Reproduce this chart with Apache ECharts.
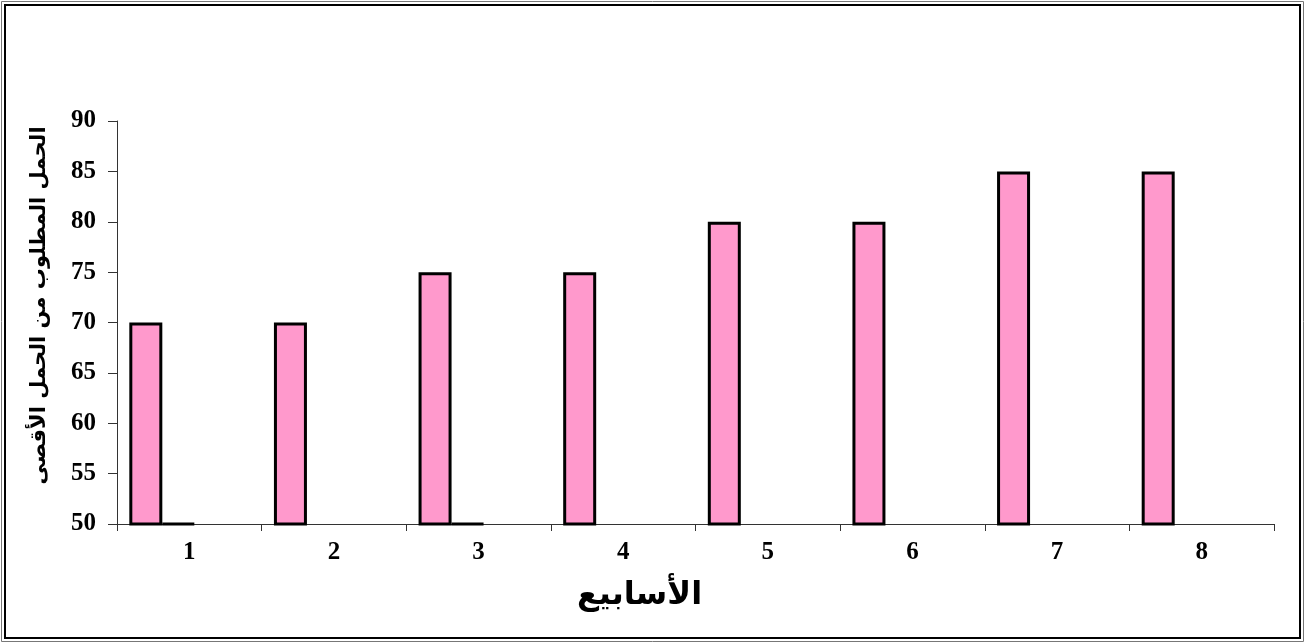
<!DOCTYPE html>
<html lang="ar">
<head>
    <meta charset="UTF-8"/>
    <script src="https://cdn.jsdelivr.net/npm/echarts@6/dist/echarts.min.js"></script>
    <title>weeks_load</title>
    <style>
        html, body { margin: 0; padding: 0; background: #fff; }
    </style>
</head>
<body>
<div id="main" style="width: 1306px;height:644px;"></div>
<script type="text/javascript">
    // data
    var weeks = ['1', '2', '3', '4', '5', '6', '7', '8'];
    var loadValues = [70, 70, 75, 75, 80, 80, 85, 85];
    var secondValues = [50.15, null, 50.15, null, null, null, null, null];
    var emptyValues = [null, null, null, null, null, null, null, null];
    var yTicks = [50, 55, 60, 65, 70, 75, 80, 85, 90];

    var myChart = echarts.init(document.getElementById('main'));

    var serif = '"Liberation Serif", "DejaVu Serif", serif';
    var arabic = '"DejaVu Sans", "Noto Sans", sans-serif';

    var barStyle = {
        color: '#FF99CC',
        borderColor: '#000',
        borderWidth: 3
    };

    var option = {
        animation: false,
        backgroundColor: '#fff',
        graphic: [
            {
                type: 'rect',
                shape: {x: 1.5, y: 1.5, width: 1302, height: 640},
                style: {fill: 'none', stroke: '#777', lineWidth: 1}
            },
            {
                type: 'rect',
                shape: {x: 5, y: 5, width: 1295, height: 633},
                style: {fill: 'none', stroke: '#000', lineWidth: 2}
            }
        ],
        grid: {
            left: 117,
            right: 32,
            top: 121,
            bottom: 120
        },
        xAxis: {
            type: 'category',
            data: weeks,
            name: 'الأسابيع',
            nameLocation: 'middle',
            nameGap: 56,
            nameTextStyle: {
                fontFamily: arabic,
                fontWeight: 'bold',
                fontSize: 32,
                color: '#000',
                padding: [0, 112, 0, 0]
            },
            axisLine: {lineStyle: {color: '#333', width: 1}},
            axisTick: {show: true, alignWithLabel: false, length: 7, lineStyle: {color: '#333'}},
            axisLabel: {
                fontFamily: serif,
                fontWeight: 'bold',
                fontSize: 25,
                color: '#000',
                margin: 16
            },
            splitLine: {show: false}
        },
        yAxis: {
            type: 'value',
            min: yTicks[0],
            max: yTicks[yTicks.length - 1],
            interval: 5,
            name: 'الحمل المطلوب من الحمل الأقصى',
            nameLocation: 'middle',
            nameGap: 67,
            nameTextStyle: {
                fontFamily: arabic,
                fontWeight: 'bold',
                fontSize: 21,
                color: '#000',
                padding: [0, 0, 0, 34]
            },
            axisLine: {show: true, lineStyle: {color: '#333', width: 1}},
            axisTick: {show: true, length: 9, lineStyle: {color: '#333'}},
            axisLabel: {
                fontFamily: serif,
                fontWeight: 'bold',
                fontSize: 25,
                color: '#000',
                margin: 21
            },
            splitLine: {show: false}
        },
        series: [
            {
                name: 'a',
                type: 'bar',
                data: loadValues,
                barWidth: 33,
                barGap: '0%',
                itemStyle: barStyle
            },
            {
                name: 'b',
                type: 'bar',
                data: secondValues,
                barWidth: 32,
                barGap: '0%',
                itemStyle: barStyle
            },
            {
                name: 'c',
                type: 'bar',
                data: emptyValues,
                barWidth: 33,
                barGap: '0%',
                itemStyle: barStyle
            },
            {
                name: 'd',
                type: 'bar',
                data: emptyValues,
                barWidth: 22,
                barGap: '0%',
                itemStyle: barStyle
            }
        ]
    };

    myChart.setOption(option);
</script>
</body>
</html>
